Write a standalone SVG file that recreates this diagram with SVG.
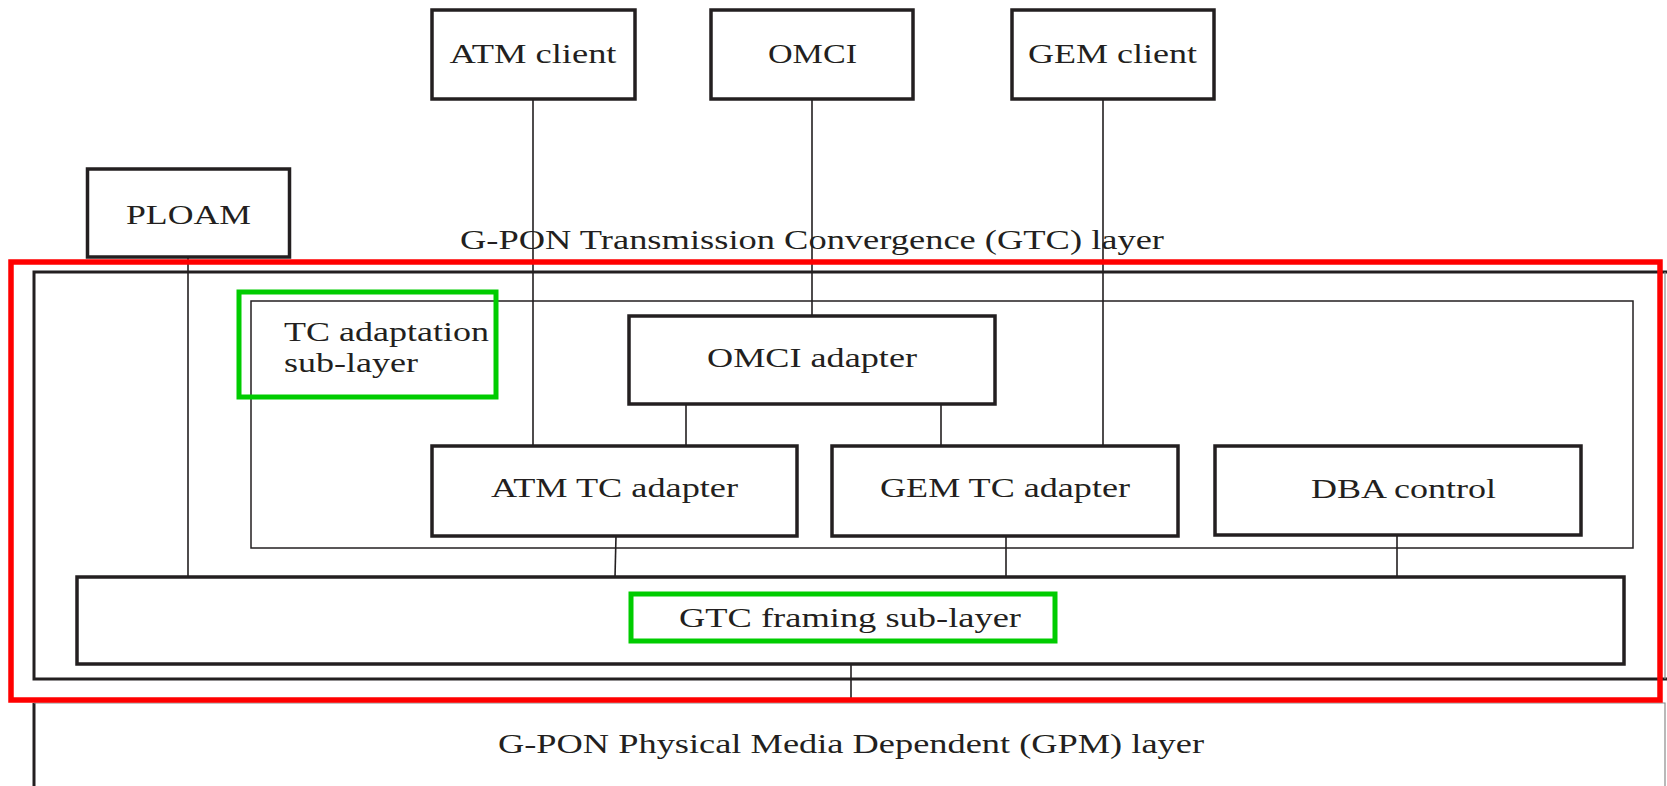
<svg xmlns="http://www.w3.org/2000/svg" width="1667" height="786" viewBox="0 0 1667 786">
<style>
.box{fill:#fff;stroke:#231f20;stroke-width:3.5}
.thin{fill:none;stroke:#231f20;stroke-width:1.5}
.ln{stroke:#231f20;stroke-width:1.6;fill:none}
.red{fill:none;stroke:#ff0000;stroke-width:5.5}
.grn{fill:none;stroke:#00cc00;stroke-width:5}
text{font-family:"Liberation Serif","Times New Roman",serif;font-size:28px;fill:#231f20}
</style>
<rect width="1667" height="786" fill="#fff"/>
<g id="gpm-layer">
<path d="M34,703 V786" stroke="#231f20" stroke-width="3" fill="none"/>
<path d="M34,703 H1665 V786" stroke="#8a8a8a" stroke-width="1.2" fill="none"/>
<text x="498" y="753" textLength="706" lengthAdjust="spacingAndGlyphs">G-PON Physical Media Dependent (GPM) layer</text>
</g>
<g id="gtc-layer">
<path d="M1667,272 H34 V679 H1667" stroke="#231f20" stroke-width="3" fill="none"/>
<path d="M1665,272 V679" stroke="#8a8a8a" stroke-width="1.2" fill="none"/>
<text x="460" y="249" textLength="704" lengthAdjust="spacingAndGlyphs">G-PON Transmission Convergence (GTC) layer</text>
</g>
<g id="tc-adaptation-sublayer">
<rect class="thin" x="251" y="301" width="1382" height="247"/>
<text x="284" y="341" textLength="205" lengthAdjust="spacingAndGlyphs">TC adaptation</text>
<text x="284" y="372" textLength="134" lengthAdjust="spacingAndGlyphs">sub-layer</text>
</g>
<g id="connectors">
<line class="ln" x1="533" y1="99" x2="533" y2="446"/>
<line class="ln" x1="812" y1="99" x2="812" y2="316"/>
<line class="ln" x1="1103" y1="99" x2="1103" y2="446"/>
<line class="ln" x1="188" y1="257" x2="188" y2="577"/>
<line class="ln" x1="686" y1="404" x2="686" y2="446"/>
<line class="ln" x1="941" y1="404" x2="941" y2="446"/>
<line class="ln" x1="616" y1="536" x2="615" y2="577"/>
<line class="ln" x1="1006" y1="536" x2="1006" y2="577" stroke-width="2.2"/>
<line class="ln" x1="1397" y1="535" x2="1397" y2="577"/>
<line class="ln" x1="851" y1="664" x2="851" y2="701"/>
</g>
<g id="atm-client">
<rect class="box" x="432" y="10" width="203" height="89"/>
<text x="449.5" y="63" textLength="167" lengthAdjust="spacingAndGlyphs">ATM client</text>
</g>
<g id="omci">
<rect class="box" x="711" y="10" width="202" height="89"/>
<text x="768" y="63" textLength="89" lengthAdjust="spacingAndGlyphs">OMCI</text>
</g>
<g id="gem-client">
<rect class="box" x="1012" y="10" width="202" height="89"/>
<text x="1028" y="63" textLength="169" lengthAdjust="spacingAndGlyphs">GEM client</text>
</g>
<g id="ploam">
<rect class="box" x="87.5" y="169" width="202" height="88"/>
<text x="126" y="224" textLength="125" lengthAdjust="spacingAndGlyphs">PLOAM</text>
</g>
<g id="omci-adapter">
<rect class="box" x="629" y="316" width="366" height="88"/>
<text x="707" y="367" textLength="210" lengthAdjust="spacingAndGlyphs">OMCI adapter</text>
</g>
<g id="atm-tc-adapter">
<rect class="box" x="432" y="446" width="365" height="90"/>
<text x="491" y="497" textLength="247" lengthAdjust="spacingAndGlyphs">ATM TC adapter</text>
</g>
<g id="gem-tc-adapter">
<rect class="box" x="832" y="446" width="346" height="90"/>
<text x="880" y="497" textLength="250" lengthAdjust="spacingAndGlyphs">GEM TC adapter</text>
</g>
<g id="dba-control">
<rect class="box" x="1215" y="446" width="366" height="89"/>
<text x="1311" y="498" textLength="185" lengthAdjust="spacingAndGlyphs">DBA control</text>
</g>
<g id="gtc-framing-sublayer">
<rect class="box" x="77" y="577" width="1547" height="87"/>
<text x="679" y="627" textLength="342" lengthAdjust="spacingAndGlyphs">GTC framing sub-layer</text>
</g>
<g id="highlights">
<rect class="red" x="11" y="262" width="1649" height="438"/>
<rect class="grn" x="239" y="292" width="257" height="105"/>
<rect class="grn" x="631" y="594" width="424" height="47"/>
</g>
</svg>
